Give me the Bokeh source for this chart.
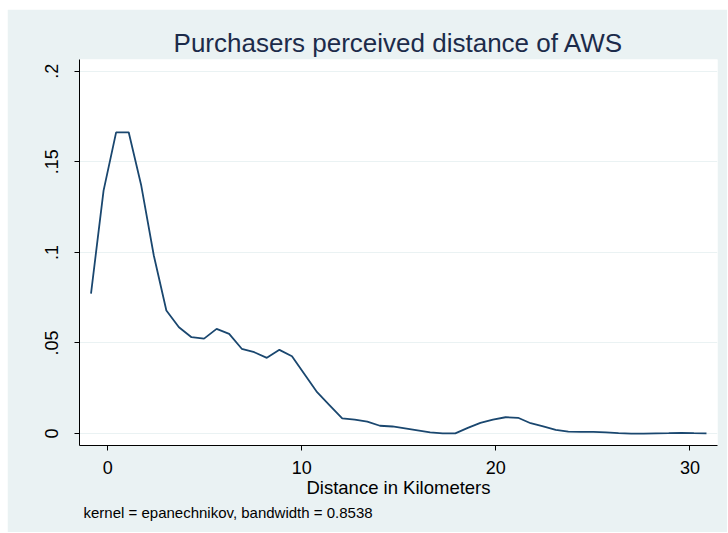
from bokeh.plotting import figure
from bokeh.models import FixedTicker, Range1d, Title
from bokeh.embed import file_html
from bokeh.resources import INLINE

# Kernel density estimate (50 evaluation points)
distance_km = [-0.861, -0.214, 0.433, 1.081, 1.728, 2.375, 3.022, 3.670, 4.317, 4.964,
               5.611, 6.258, 6.906, 7.553, 8.200, 8.847, 9.494, 10.141, 10.789, 11.436,
               12.083, 12.730, 13.377, 14.025, 14.672, 15.319, 15.966, 16.613, 17.261, 17.908,
               18.555, 19.202, 19.849, 20.497, 21.144, 21.791, 22.438, 23.085, 23.733, 24.380,
               25.027, 25.674, 26.321, 26.969, 27.616, 28.263, 28.910, 29.557, 30.205, 30.852]
density = [0.0773, 0.1341, 0.1663, 0.1663, 0.1369, 0.0983, 0.0679, 0.0587, 0.0532, 0.0524,
           0.0578, 0.0550, 0.0468, 0.0449, 0.0418, 0.0462, 0.0427, 0.0327, 0.0228, 0.0156,
           0.0084, 0.0077, 0.0066, 0.0043, 0.0039, 0.0028, 0.0017, 0.0006, 0.0001, 0.0001,
           0.0031, 0.0059, 0.0077, 0.0090, 0.0087, 0.0057, 0.0039, 0.0020, 0.0011, 0.0009,
           0.0009, 0.0006, 0.0002, 0.0000, 0.0000, 0.0001, 0.0002, 0.0004, 0.0002, 0.0001]

x_ticks = [0, 10, 20, 30]
y_ticks = [0, 0.05, 0.1, 0.15, 0.2]
y_tick_labels = ["0", ".05", ".1", ".15", ".2"]

title_text = "Purchasers perceived distance of AWS"
x_title = "Distance in Kilometers"
note_text = "kernel = epanechnikov, bandwidth = 0.8538"

BG = "#EAF2F3"
FONT = "Liberation Sans"

p = figure(width=720, height=523, output_backend="svg", toolbar_location=None,
           x_range=Range1d(-1.454, 31.42), y_range=Range1d(-0.0066, 0.2065),
           min_border_left=72, min_border_right=10, min_border_top=50, min_border_bottom=87)
p.margin = (9, 1, 1, 7)

p.background_fill_color = "white"
p.border_fill_color = BG
p.outline_line_color = None

p.line(distance_km, density, line_color="#1A476F", line_width=1.8)

# Title
p.title = Title(text=title_text, align="center", text_font=FONT, text_font_size="26px",
                text_font_style="normal", text_color="#1c2b4a", standoff=3)

# Note below
p.add_layout(Title(text=note_text, align="left", text_font=FONT, text_font_size="15px",
                   text_font_style="normal", text_color="black", offset=4, standoff=2), "below")

# Axes
for ax in (p.xaxis[0], p.yaxis[0]):
    ax.axis_line_color = "black"
    ax.axis_line_width = 1
    ax.major_tick_line_color = "black"
    ax.major_tick_out = 5
    ax.major_tick_in = 0
    ax.minor_tick_line_color = None
    ax.major_label_text_font = FONT
    ax.major_label_text_font_size = "18px"
    ax.major_label_text_color = "black"

p.xaxis.ticker = FixedTicker(ticks=x_ticks)
p.xaxis.major_label_standoff = 10
p.xaxis.axis_label = x_title
p.xaxis.axis_label_text_font = FONT
p.xaxis.axis_label_text_font_size = "18.5px"
p.xaxis.axis_label_text_font_style = "normal"
p.xaxis.axis_label_text_color = "black"
p.xaxis.axis_label_standoff = 0

p.yaxis.ticker = FixedTicker(ticks=y_ticks)
p.yaxis.major_label_overrides = {t: l for t, l in zip(y_ticks, y_tick_labels)}
p.yaxis.major_label_orientation = "vertical"
p.yaxis.major_label_standoff = 16

p.xgrid.grid_line_color = None
p.ygrid.grid_line_color = BG
p.ygrid.grid_line_width = 1
p.ygrid.ticker = FixedTicker(ticks=y_ticks)

open("out.html", "w").write(file_html(p, INLINE))
